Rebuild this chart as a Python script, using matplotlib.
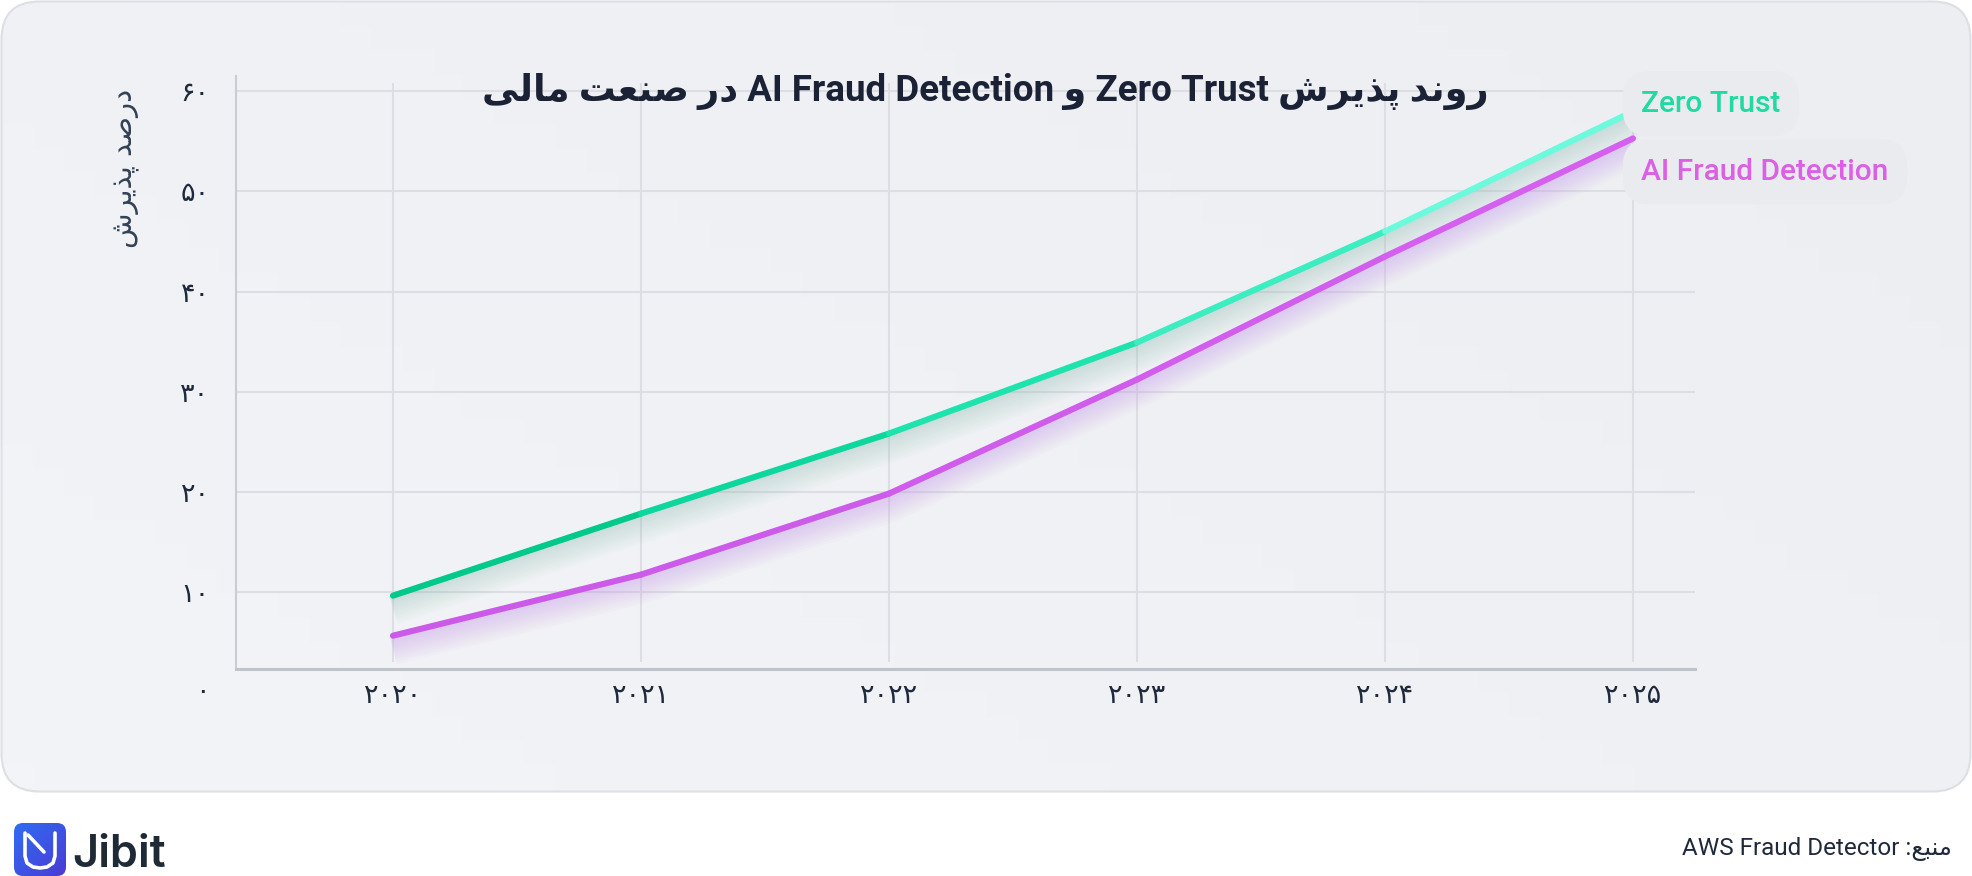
import numpy as np
import matplotlib
matplotlib.use('Agg')
import matplotlib.pyplot as plt
from matplotlib.patches import FancyBboxPatch
from matplotlib.transforms import ScaledTranslation
from matplotlib.colors import LinearSegmentedColormap

# ---------------- data ----------------
years = [2020, 2021, 2022, 2023, 2024, 2025]
year_labels = ['۲۰۲۰', '۲۰۲۱', '۲۰۲۲', '۲۰۲۳', '۲۰۲۴', '۲۰۲۵']
zero_trust = [9.6, 17.8, 25.8, 34.9, 46.0, 58.0]
ai_fraud = [5.6, 11.7, 19.8, 31.2, 43.5, 55.3]
y_ticks = [10, 20, 30, 40, 50, 60]
y_tick_labels = ['۱۰', '۲۰', '۳۰', '۴۰', '۵۰', '۶۰']
zero_tick = 0
zero_label = '۰'
series_names = ['Zero Trust', 'AI Fraud Detection']
title_text = 'روند پذیرش Zero Trust و AI Fraud Detection در صنعت مالی'
ylabel_text = 'درصد پذیرش'
source_text = 'منبع: AWS Fraud Detector'
brand_text = 'Jibit'

# ---------------- minimal Persian shaping (presentation forms, visual order) ----------------
FORMS = {
    'ا': ('\uFE8D', '\uFE8E', None, None),
    'ب': ('\uFE8F', '\uFE90', '\uFE91', '\uFE92'),
    'پ': ('\uFB56', '\uFB57', '\uFB58', '\uFB59'),
    'ت': ('\uFE95', '\uFE96', '\uFE97', '\uFE98'),
    'د': ('\uFEA9', '\uFEAA', None, None),
    'ذ': ('\uFEAB', '\uFEAC', None, None),
    'ر': ('\uFEAD', '\uFEAE', None, None),
    'ش': ('\uFEB5', '\uFEB6', '\uFEB7', '\uFEB8'),
    'ص': ('\uFEB9', '\uFEBA', '\uFEBB', '\uFEBC'),
    'ع': ('\uFEC9', '\uFECA', '\uFECB', '\uFECC'),
    'غ': ('\uFECD', '\uFECE', '\uFECF', '\uFED0'),
    'ل': ('\uFEDD', '\uFEDE', '\uFEDF', '\uFEE0'),
    'م': ('\uFEE1', '\uFEE2', '\uFEE3', '\uFEE4'),
    'ن': ('\uFEE5', '\uFEE6', '\uFEE7', '\uFEE8'),
    'و': ('\uFEED', '\uFEEE', None, None),
    'ی': ('\uFBFC', '\uFBFD', '\uFBFE', '\uFBFF'),
}


def shape_word(w):
    out = []
    n = len(w)
    for i, c in enumerate(w):
        if c not in FORMS:
            out.append(c)
            continue
        f = FORMS[c]
        prev = w[i - 1] if i > 0 else None
        nxt = w[i + 1] if i < n - 1 else None
        jp = prev in FORMS and FORMS[prev][2] is not None
        jn = nxt in FORMS and f[2] is not None
        if jp and jn:
            g = f[3]
        elif jp:
            g = f[1]
        elif jn:
            g = f[2]
        else:
            g = f[0]
        out.append(g)
    return ''.join(reversed(out))


def is_persian(tok):
    return any(ch in FORMS for ch in tok)


def rtl(text):
    runs = []
    for t in text.split(' '):
        p = is_persian(t)
        if runs and not p and not runs[-1][0]:
            runs[-1][1].append(t)
        else:
            runs.append([p, [t]])
    parts = []
    for p, words in reversed(runs):
        if p:
            parts.append(' '.join(shape_word(x) for x in reversed(words)))
        else:
            parts.append(' '.join(words))
    return ' '.join(parts)


# ---------------- figure ----------------
W, H = 1972, 876
fig = plt.figure(figsize=(W / 100, H / 100), dpi=100)
fig.patch.set_facecolor('white')

ax_bg = fig.add_axes([0, 0, 1, 1], zorder=0)
ax_bg.set_xlim(0, W)
ax_bg.set_ylim(0, H)
ax_bg.axis('off')

panel = FancyBboxPatch((1.5, 84.5), W - 3, H - 86, boxstyle='round,pad=0,rounding_size=38',
                       fc='none', ec='#dcdfe4', lw=1.5, zorder=2)
ax_bg.add_patch(panel)
clip_panel = FancyBboxPatch((1.5, 84.5), W - 3, H - 86, boxstyle='round,pad=0,rounding_size=38',
                            fc='none', ec='none')
ax_bg.add_patch(clip_panel)
gx, gy = np.meshgrid(np.linspace(0, 1, 64), np.linspace(0, 1, 32))
grad = 0.6 * gx + 0.4 * (1 - gy)
bg_cmap = LinearSegmentedColormap.from_list('bg', ['#f3f4f7', '#eceef2'])
im = ax_bg.imshow(grad, extent=(1.5, W - 1.5, 84.5, H - 1.5), origin='upper', cmap=bg_cmap,
                  aspect='auto', zorder=1)
im.set_clip_path(clip_panel)

# logo
logo = FancyBboxPatch((14, 0), 52, 53, boxstyle='round,pad=0,rounding_size=9', fc='none', ec='none')
ax_bg.add_patch(logo)
lx, ly = np.meshgrid(np.linspace(0, 1, 16), np.linspace(0, 1, 16))
logo_cmap = LinearSegmentedColormap.from_list('logo', ['#2f6df2', '#4a3cd6'])
lim = ax_bg.imshow(lx * 0.5 + ly * 0.5, extent=(14, 66, 0, 53), origin='upper', cmap=logo_cmap,
                   aspect='auto', zorder=3)
lim.set_clip_path(logo)
ax_bg.plot([25, 25, 27, 33, 40, 47, 53, 55, 55], [43, 20, 13, 9, 8, 9, 13, 20, 43],
           color='white', lw=2.6, solid_capstyle='round', solid_joinstyle='round', zorder=4)
ax_bg.plot([28, 44], [41, 24], color='white', lw=2.6, solid_capstyle='round', zorder=4)
ax_bg.text(72, 9, brand_text, ha='left', va='baseline', fontsize=32.5, family='Inter',
           weight='semibold', color='#1f2a37', zorder=4)

ax_bg.text(1952, 27, rtl(source_text), ha='right', va='center', fontsize=17.5,
           family=['Roboto', 'DejaVu Sans'], color='#1e293b', zorder=4)

# ---------------- main axes ----------------
ax = fig.add_axes([236 / W, (H - 669.3) / H, (1695 - 236) / W, (669.3 - 75.7) / H], zorder=2)
ax.set_facecolor('none')
ax.set_xlim(2019.367, 2025.25)
ax.set_ylim(2.24, 61.57)

ax.yaxis.grid(True, color='#dcdee3', lw=1.5, zorder=0)
ax.set_axisbelow(True)
ax.vlines(years, 3.0, 60.8, color='#dcdee3', lw=1.5, zorder=0.5)

for s in ['top', 'right']:
    ax.spines[s].set_visible(False)
ax.spines['left'].set_color('#c9ccd2')
ax.spines['left'].set_linewidth(1.5)
ax.spines['bottom'].set_color('#c0c4ca')
ax.spines['bottom'].set_linewidth(2.2)

ax.set_xticks(years, year_labels)
ax.set_yticks(y_ticks, y_tick_labels)
ax.tick_params(axis='both', length=0, labelsize=19.5, labelcolor='#1e293b')
ax.tick_params(axis='x', pad=10)
ax.tick_params(axis='y', pad=19)
for lab in ax.get_xticklabels() + ax.get_yticklabels():
    lab.set_family('DejaVu Sans')
ax.annotate(zero_label, xy=(0, zero_tick), xycoords=('axes fraction', 'data'), xytext=(-19, 0),
            textcoords='offset points', ha='right', va='center', fontsize=19.5, color='#1e293b',
            family='DejaVu Sans', annotation_clip=False)


def glow(vals, color):
    for k in range(10):
        off = (3 + 1.3 * k) / 100.0
        tr = ax.transData + ScaledTranslation(0, -off, fig.dpi_scale_trans)
        ax.plot(years, vals, color=color, lw=3 + 2.0 * k, alpha=0.04, transform=tr,
                solid_capstyle='butt', solid_joinstyle='round', zorder=3)


glow(zero_trust, '#93bfb6')
glow(ai_fraud, '#c58af0')

zt_cmap = LinearSegmentedColormap.from_list('zt', ['#00c98a', '#12dca3', '#2ae9b6', '#6cfadc'])
ai_cmap = LinearSegmentedColormap.from_list('ai', ['#cb5ae9', '#cf5ceb', '#d560ef'])
nseg = len(years) - 1
for i in range(nseg):
    t = i / (nseg - 1)
    ax.plot(years[i:i + 2], ai_fraud[i:i + 2], color=ai_cmap(t), lw=4.4,
            solid_capstyle='round', zorder=5)
for i in range(nseg):
    t = i / (nseg - 1)
    ax.plot(years[i:i + 2], zero_trust[i:i + 2], color=zt_cmap(t), lw=4.4,
            solid_capstyle='round', zorder=6)

box = dict(boxstyle='round,pad=0.62,rounding_size=0.9', fc='#e9ebef', ec='none')
ax.annotate(series_names[1], xy=(years[-1], ai_fraud[-1]), xytext=(6, -24), textcoords='offset points',
            ha='left', va='center', fontsize=21.5, family='Roboto', weight='medium', color='#dc5fe6',
            bbox=box, zorder=8, annotation_clip=False)
ax.annotate(series_names[0], xy=(years[-1], zero_trust[-1]), xytext=(6, 5.5), textcoords='offset points',
            ha='left', va='center', fontsize=21.5, family='Roboto', weight='medium', color='#1edaa3',
            bbox=box, zorder=9, annotation_clip=False)

fig.text(0.4995, 0.895, rtl(title_text), ha='center', va='center', fontsize=26.5, weight='bold',
         family=['Roboto', 'DejaVu Sans'], color='#1b2236', zorder=10)
fig.text(0.0639, 0.808, rtl(ylabel_text), rotation=90, ha='center', va='center', fontsize=21,
         family='DejaVu Sans', color='#334155', zorder=10)

fig.savefig('out.png', dpi=100, facecolor='white')
